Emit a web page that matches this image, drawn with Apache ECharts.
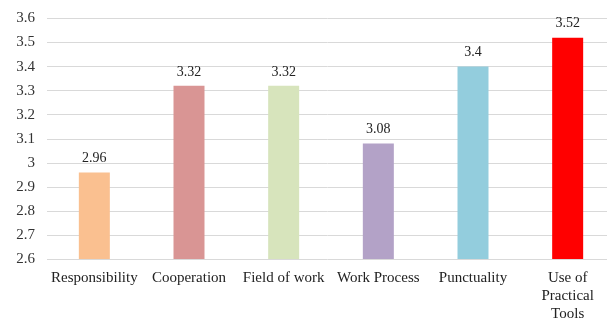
<!DOCTYPE html>
<html>
<head>
<meta charset="utf-8">
<script src="https://cdn.jsdelivr.net/npm/echarts@6/dist/echarts.min.js"></script>
<style>
  html, body { margin: 0; padding: 0; background: #fff; }
  #chart { width: 607px; height: 319px; }
</style>
</head>
<body>
<div id="chart"></div>
<script>
var categories = ["Responsibility", "Cooperation", "Field of work", "Work Process", "Punctuality", "Use of\nPractical\nTools"];
var scores = [2.96, 3.32, 3.32, 3.08, 3.4, 3.52];
var barColors = ["#FAC090", "#D99594", "#D7E4BC", "#B3A2C7", "#93CDDD", "#FF0000"];

var chart = echarts.init(document.getElementById("chart"));
var font = "'Liberation Serif', 'Times New Roman', serif";

chart.setOption({
    animation: false,
    grid: { left: 47, right: -8, top: 18.5, bottom: 60, containLabel: false, outerBoundsMode: "none" },
    xAxis: {
        type: "category",
        data: categories,
        axisLine: { show: false },
        axisTick: { show: false },
        axisLabel: {
            interval: 0,
            margin: 10,
            color: "#222",
            fontFamily: font,
            fontSize: 15,
            lineHeight: 18
        }
    },
    yAxis: {
        type: "value",
        min: 2.6,
        max: 3.6,
        interval: 0.1,
        axisLine: { show: false },
        axisTick: { show: false },
        splitLine: { lineStyle: { color: "#d9d9d9", width: 1 } },
        axisLabel: {
            margin: 12,
            color: "#333",
            fontFamily: font,
            fontSize: 15,
            formatter: function (v) { return String(Math.round(v * 10) / 10); }
        }
    },
    series: [{
        type: "bar",
        barWidth: 31,
        data: scores.map(function (v, i) {
            return { value: v, itemStyle: { color: barColors[i] } };
        }),
        label: {
            show: true,
            position: "top",
            distance: 7,
            color: "#222",
            fontFamily: font,
            fontSize: 14
        }
    }]
});
</script>
</body>
</html>
